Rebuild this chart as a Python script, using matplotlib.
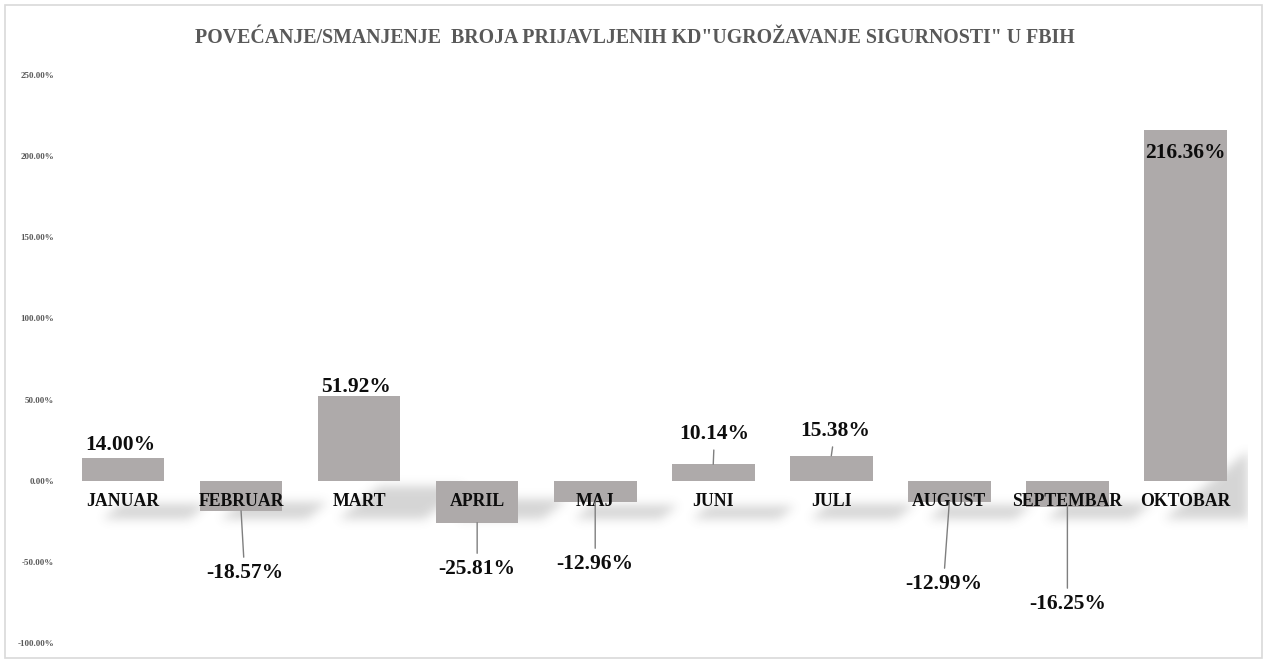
import numpy as np
import matplotlib
matplotlib.use('Agg')
import matplotlib.pyplot as plt
from matplotlib.path import Path
from matplotlib.patches import Rectangle

# podaci
mjeseci = ['JANUAR', 'FEBRUAR', 'MART', 'APRIL', 'MAJ', 'JUNI', 'JULI', 'AUGUST', 'SEPTEMBAR', 'OKTOBAR']
promjena = [14.00, -18.57, 51.92, -25.81, -12.96, 10.14, 15.38, -12.99, -16.25, 216.36]
y_ticks = [-100, -50, 0, 50, 100, 150, 200, 250]
naslov = 'POVEĆANJE/SMANJENJE  BROJA PRIJAVLJENIH KD"UGROŽAVANJE SIGURNOSTI" U FBIH'

# polozaj oznaka (x u kategorijama, y u %)
label_pos = [(-0.02, 21.8), (1.03, -56.7), (1.97, 58.0), (3.0, -54.3), (4.0, -51.2),
             (5.01, 28.5), (6.03, 30.4), (6.95, -63.5), (8.0, -75.8), (9.0, 202.1)]

serif = 'Liberation Serif'
bar_color = '#AEAAAA'

fig = plt.figure(figsize=(12.68, 6.63), dpi=100)
fig.patches.append(Rectangle((5 / 1268, 5 / 663), 1257 / 1268, 653 / 663, transform=fig.transFigure,
                             fill=False, edgecolor='#D9D9D9', linewidth=1.2))
ax = fig.add_axes([64 / 1268, 20 / 663, 1184 / 1268, 568 / 663])
xlim = (-0.5, 9.53)
ylim = (-100, 250)

x = np.arange(len(mjeseci))

# sjene ispod stupaca (zamucene)
nx, ny = 1184, 568
gx = np.linspace(xlim[0], xlim[1], nx)
gy = np.linspace(ylim[0], ylim[1], ny)
GX, GY = np.meshgrid(gx, gy)
pts = np.column_stack([GX.ravel(), GY.ravel()])
mask = np.zeros(nx * ny)
for i, v in enumerate(promjena):
    hs = 0.3 * abs(v) + 5
    x0 = i - 0.35 + 0.17
    x1 = i + 0.35 + 0.2
    yb = -24
    sh = 0.0169 * hs
    poly = Path([(x0, yb), (x1, yb), (x1 + sh, yb + hs), (x0 + sh, yb + hs), (x0, yb)])
    mask = np.maximum(mask, poly.contains_points(pts).astype(float))
mask = mask.reshape(ny, nx)
k = np.exp(-0.5 * (np.arange(-15, 16) / 5.0) ** 2)
k /= k.sum()
mask = np.apply_along_axis(lambda r: np.convolve(r, k, mode='same'), 1, mask)
mask = np.apply_along_axis(lambda c: np.convolve(c, k, mode='same'), 0, mask)
rgba = np.zeros((ny, nx, 4))
rgba[..., :3] = 0.4
rgba[..., 3] = mask * 0.27
ax.imshow(rgba, extent=(xlim[0], xlim[1], ylim[0], ylim[1]), origin='lower', aspect='auto', zorder=0.5)

ax.bar(x, promjena, width=0.7, color=bar_color, zorder=1)

for i, v in enumerate(promjena):
    lx, ly = label_pos[i]
    txt = f'{v:.2f}%'
    if abs(ly - v) > 10 and not (v > 0 and ly < v):
        ax.annotate(txt, xy=(i, v), xytext=(lx, ly), ha='center', va='center',
                    fontsize=15.5, fontweight='bold', family=serif, color='#0D0D0D',
                    arrowprops=dict(arrowstyle='-', color='#7F7F7F', lw=1, shrinkA=2, shrinkB=0))
    else:
        ax.text(lx, ly, txt, ha='center', va='center', fontsize=15.5, fontweight='bold',
                family=serif, color='#0D0D0D', zorder=3)

ax.spines['bottom'].set_position(('data', 0))
for s in ax.spines.values():
    s.set_visible(False)
ax.set_xlim(*xlim)
ax.set_ylim(*ylim)
ax.set_xticks(x)
ax.set_xticklabels(mjeseci, fontsize=12.8, fontweight='bold', family=serif, color='#0D0D0D')
ax.set_yticks(y_ticks)
ax.set_yticklabels([f'{t:.2f}%' for t in y_ticks], fontsize=6.5, fontweight='bold',
                   family=serif, color='#595959')
ax.tick_params(axis='x', length=0, pad=9)
ax.tick_params(axis='y', length=0, pad=7)
ax.patch.set_alpha(0)

fig.text(635 / 1268, 1 - 38 / 663, naslov, ha='center', va='center', fontsize=14.3,
         fontweight='bold', family=serif, color='#595959')

plt.savefig('out.png', dpi=100)
